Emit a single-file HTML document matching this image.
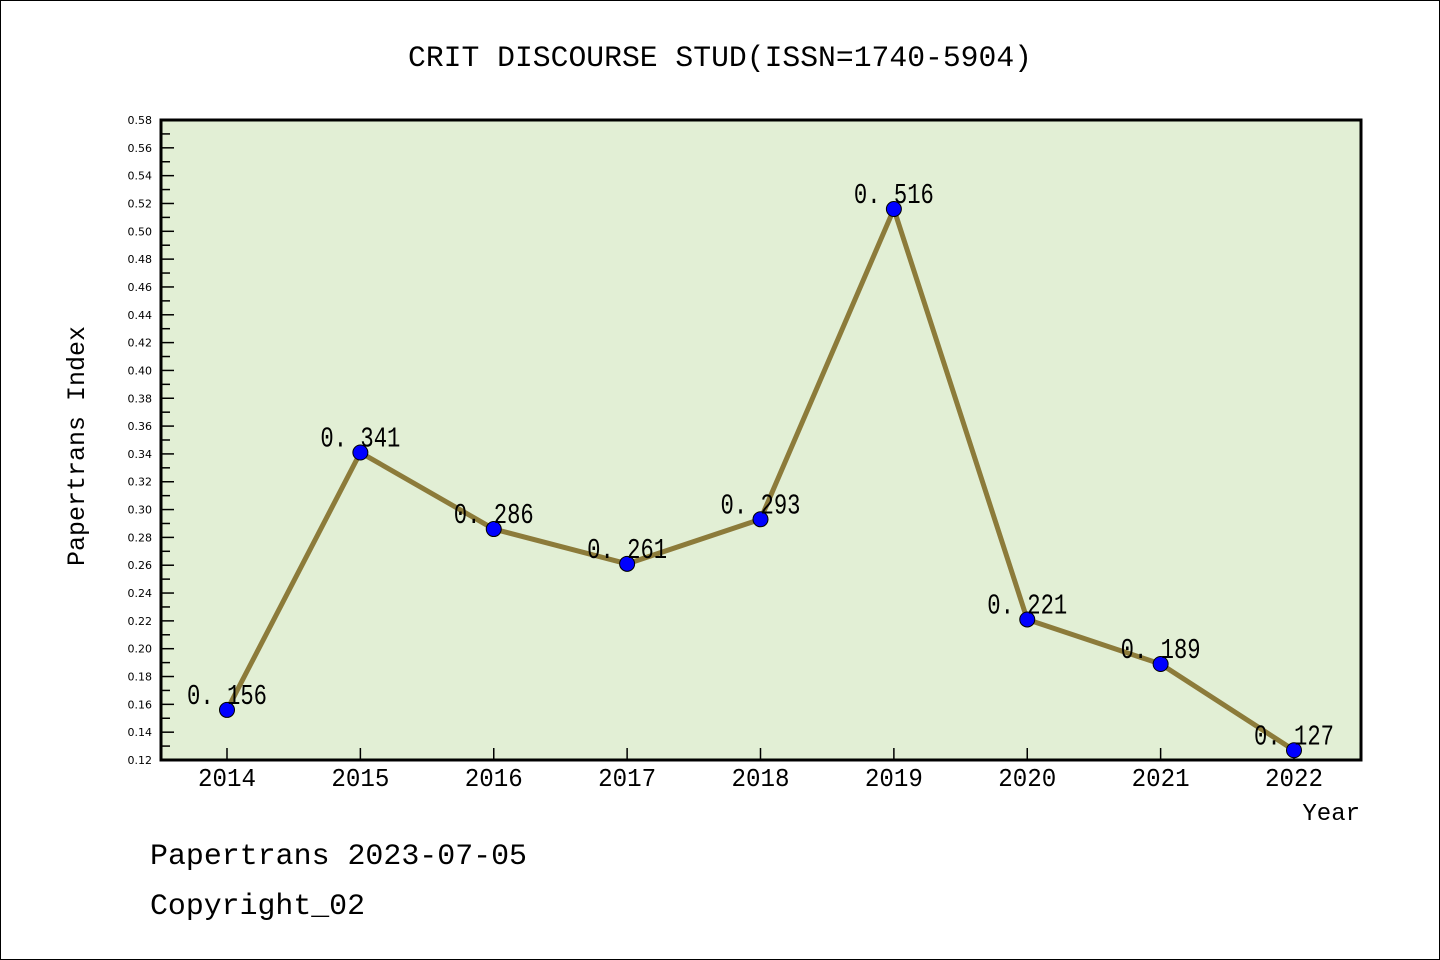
<!DOCTYPE html>
<html><head><meta charset="utf-8"><style>
html,body{margin:0;padding:0;background:#fff}
svg{display:block}
text{font-family:"Liberation Mono",monospace}
</style></head><body>
<svg id="chart" width="1440" height="960" xmlns="http://www.w3.org/2000/svg">
<rect x="0.5" y="0.5" width="1439" height="959" fill="#fff" stroke="#000"/>
<text x="720" y="66" font-size="30" text-anchor="middle" textLength="624" lengthAdjust="spacingAndGlyphs">CRIT DISCOURSE STUD(ISSN=1740-5904)</text>
<rect x="161" y="120" width="1200" height="640" fill="#e2efd5"/>
<g id="axes"></g>
<g id="series"></g>
<rect x="161" y="120" width="1200" height="640" fill="none" stroke="#000" stroke-width="3"/>
<text transform="translate(84,446) rotate(-90)" font-size="25" text-anchor="middle" textLength="240" lengthAdjust="spacingAndGlyphs">Papertrans Index</text>
<text x="1360" y="820" font-size="24" text-anchor="end">Year</text>
<text x="150" y="864" font-size="30" textLength="377" lengthAdjust="spacingAndGlyphs">Papertrans 2023-07-05</text>
<text x="150" y="914" font-size="30" textLength="215" lengthAdjust="spacingAndGlyphs">Copyright_02</text>
</svg>
<script>
const years=["2014","2015","2016","2017","2018","2019","2020","2021","2022"];
const values=[0.156,0.341,0.286,0.261,0.293,0.516,0.221,0.189,0.127];
const valueLabels=["0.156","0.341","0.286","0.261","0.293","0.516","0.221","0.189","0.127"];
const yMin=0.12,yMax=0.58;
const NS="http://www.w3.org/2000/svg";
function xs(i){return 227+i*(1294-227)/8;}
function ys(v){return 760-(v-yMin)/(yMax-yMin)*640;}
function mk(t,a){const e=document.createElementNS(NS,t);for(const k in a)e.setAttribute(k,a[k]);return e;}
const axes=document.getElementById('axes'),ser=document.getElementById('series');
for(let k=0;k<=46;k++){
  const v=yMin+k*0.01,y=ys(v),major=k%2===0;
  const t=mk('line',{x1:161,x2:161+(major?13:9),y1:y,y2:y,stroke:'#000','stroke-width':1.5});
  
  
  axes.appendChild(t);
  if(major){
    const l=mk('text',{x:152,y:y+4,'font-size':11,'text-anchor':'end',style:'font-family:"DejaVu Sans",sans-serif'});
    
    
    l.textContent=v.toFixed(2);axes.appendChild(l);
  }
}
years.forEach((yr,i)=>{
  const x=xs(i);
  const t=mk('line',{x1:x,x2:x,y1:748,y2:760,stroke:'#000','stroke-width':1.5});
  
  
  axes.appendChild(t);
  const l=mk('text',{x:x,y:786,'font-size':26,'text-anchor':'middle',textLength:58,lengthAdjust:'spacingAndGlyphs'});
  
  
  l.textContent=yr;axes.appendChild(l);
});
const pts=values.map((v,i)=>xs(i)+','+ys(v)).join(' ');
const line=mk('polyline',{points:pts,fill:'none',stroke:'#8c7b3a','stroke-width':5,'stroke-linejoin':'round'});


ser.appendChild(line);
values.forEach((v,i)=>{
  const c=mk('circle',{cx:xs(i),cy:ys(v),r:7.5,fill:'#0000ff',stroke:'#000','stroke-width':1});
  
  
  ser.appendChild(c);
  const l=mk('text',{x:xs(i),y:ys(v)-6,'font-size':29,'text-anchor':'middle',textLength:80,lengthAdjust:'spacingAndGlyphs'});
  
  
  l.textContent=valueLabels[i].replace('.','. ');ser.appendChild(l);
});
</script>
</body></html>
